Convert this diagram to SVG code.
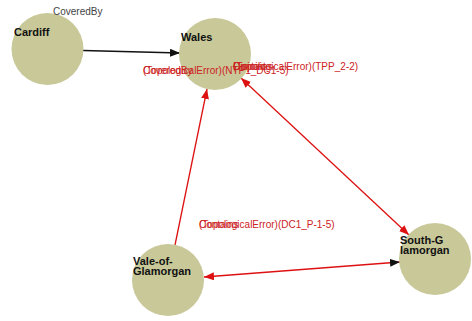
<svg xmlns="http://www.w3.org/2000/svg" width="472" height="321" viewBox="0 0 472 321">
<defs>
<marker id="ab" viewBox="0 0 10 8" refX="10" refY="4" markerWidth="10" markerHeight="8" markerUnits="userSpaceOnUse" orient="auto-start-reverse"><path d="M0,0 L10,4 L0,8 z" fill="#111"/></marker>
<marker id="ar" viewBox="0 0 10 8" refX="10" refY="4" markerWidth="10" markerHeight="8" markerUnits="userSpaceOnUse" orient="auto-start-reverse"><path d="M0,0 L10,4 L0,8 z" fill="#dd1111"/></marker>
<style>
.n{fill:#c8c899;}
.nl{font-family:"Liberation Sans",Arial,sans-serif;font-size:11px;font-weight:bold;fill:#111;}
.el{font-family:"Liberation Sans",Arial,sans-serif;font-size:10px;fill:#cc2222;}
.bl{font-family:"Liberation Sans",Arial,sans-serif;font-size:10px;fill:#444;}
.e{fill:none;stroke-width:1.3;}
.r{stroke:#dd1111;}
.k{stroke:#111;}
</style>
</defs>
<g id="connectors">
<line class="e k" x1="83" y1="50.5" x2="180" y2="53" marker-end="url(#ab)"/>
<line class="e r" x1="175" y1="245" x2="207" y2="89" marker-end="url(#ar)"/>
<line class="e r" x1="241" y1="78" x2="409" y2="235" marker-start="url(#ar)" marker-end="url(#ar)"/>
<line class="e r" x1="400" y1="262" x2="204" y2="277" marker-end="url(#ar)"/>
<line class="e k" x1="390" y1="262.8" x2="400" y2="262" marker-end="url(#ab)" style="stroke:none"/>
</g>
<g id="cardiff"><circle class="n" cx="47.5" cy="49" r="36"/><text class="nl" x="14" y="36">Cardiff</text></g>
<g id="wales"><circle class="n" cx="215" cy="54" r="36"/><text class="nl" x="181" y="41">Wales</text></g>
<g id="vale"><circle class="n" cx="168" cy="280" r="36"/><text class="nl" x="133" y="265">Vale-of-</text><text class="nl" x="133" y="275">Glamorgan</text></g>
<g id="southg"><circle class="n" cx="435" cy="259" r="36"/><text class="nl" x="400" y="244">South-G</text><text class="nl" x="400" y="254">lamorgan</text></g>
<g id="edge-labels">
<text class="bl" x="53" y="15">CoveredBy</text>
<text class="el" x="143" y="74">CoveredBy</text>
<text class="el" x="143" y="74">(TopologicalError)(NTP1_DC1-5)</text>
<text class="el" x="233" y="70">Disjoint</text>
<text class="el" x="233" y="70">Contains</text>
<text class="el" x="233" y="70">(TopologicalError)(TPP_2-2)</text>
<text class="el" x="199" y="228">Contains</text>
<text class="el" x="199" y="228">(TopologicalError)(DC1_P-1-5)</text>
</g>
</svg>
